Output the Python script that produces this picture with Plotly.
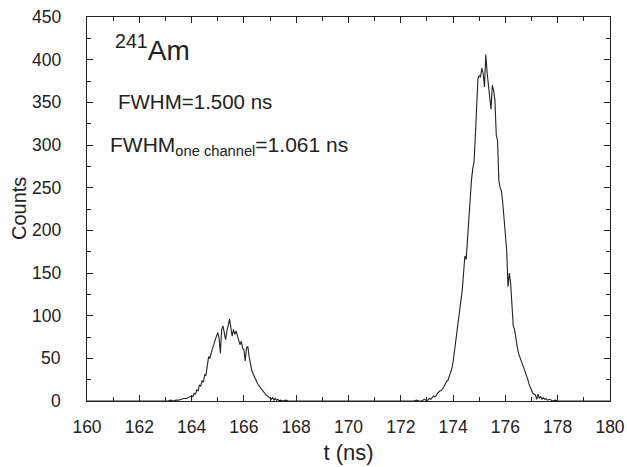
import plotly.graph_objects as go

# Small peak (~165.4 ns)
t_small = [163.0, 163.1, 163.2, 163.3, 163.4, 163.5, 163.6, 163.7, 163.8, 163.9,
           164.0, 164.05, 164.1, 164.15, 164.2, 164.25, 164.3, 164.35, 164.4, 164.45,
           164.5, 164.55, 164.6, 164.65, 164.7, 164.75, 164.8, 164.85, 164.9, 164.95,
           165.0, 165.05, 165.1, 165.15, 165.2, 165.25, 165.3, 165.35, 165.4, 165.45,
           165.5, 165.55, 165.6, 165.65, 165.7, 165.75, 165.8, 165.85, 165.9, 165.95,
           166.0, 166.05, 166.1, 166.15, 166.2, 166.25, 166.3, 166.35, 166.4, 166.45,
           166.5, 166.55, 166.6, 166.65, 166.7, 166.75, 166.8, 166.85, 166.9, 166.95,
           167.0, 167.05, 167.1, 167.15, 167.2, 167.25, 167.3, 167.35, 167.4, 167.5,
           167.6, 167.7, 167.8]
c_small = [0, 0, 1, 0, 1, 1, 2, 3, 3, 5,
           6, 5, 9, 8, 13, 12, 19, 17, 24, 22,
           31, 30, 40, 52, 50, 58, 62, 66, 72, 76,
           80, 74, 56, 84, 88, 80, 72, 82, 90, 96,
           86, 76, 84, 78, 82, 76, 72, 66, 70, 62,
           60, 47, 62, 64, 52, 42, 36, 32, 28, 25,
           22, 19, 17, 15, 12, 11, 9, 7, 6, 5,
           3, 2, 4, 1, 3, 1, 2, 0, 1, 0,
           1, 0, 0]

# Large peak (~175.2 ns)
t_large = [172.5, 172.6, 172.7, 172.8, 172.9, 173.0, 173.05, 173.1, 173.15, 173.2,
           173.25, 173.3, 173.35, 173.4, 173.45, 173.5, 173.55, 173.6, 173.65, 173.7,
           173.75, 173.8, 173.85, 173.9, 173.95, 174.0, 174.05, 174.1, 174.15, 174.2,
           174.25, 174.3, 174.35, 174.4, 174.45, 174.5, 174.55, 174.6, 174.65, 174.7,
           174.75, 174.8, 174.85, 174.9, 174.95, 175.0, 175.05, 175.1, 175.15, 175.2,
           175.25, 175.3, 175.35, 175.4, 175.45, 175.5, 175.55, 175.6, 175.65, 175.7,
           175.75, 175.8, 175.85, 175.9, 175.95, 176.0, 176.05, 176.1, 176.15, 176.2,
           176.25, 176.3, 176.35, 176.4, 176.45, 176.5, 176.55, 176.6, 176.65, 176.7,
           176.75, 176.8, 176.85, 176.9, 176.95, 177.0, 177.05, 177.1, 177.15, 177.2,
           177.25, 177.3, 177.35, 177.4, 177.45, 177.5, 177.55, 177.6, 177.7, 177.8,
           177.9, 178.0, 178.2, 178.5]
c_large = [0, 1, 0, 0, 2, 0, 1, 3, 2, 4,
           6, 5, 6, 9, 11, 12, 12, 14, 17, 20,
           23, 24, 28, 33, 38, 46, 58, 68, 80, 92,
           104, 112, 130, 150, 170, 166, 190, 215, 240, 258,
           272, 280, 310, 340, 378, 381, 380, 390, 384, 368,
           406, 385, 372, 360, 342, 370, 364, 352, 312, 305,
           258, 250, 246, 232, 215, 198, 176, 134, 150, 138,
           104, 88, 84, 72, 64, 56, 52, 46, 42, 38,
           35, 30, 26, 20, 16, 12, 9, 8, 7, 2,
           8, 3, 5, 2, 4, 2, 3, 1, 2, 0,
           1, 0, 0, 0]

t_all = [160.0] + t_small + t_large + [180.0]
c_all = [0] + c_small + c_large + [0]

x_ticks = [160, 162, 164, 166, 168, 170, 172, 174, 176, 178, 180]
y_ticks = [0, 50, 100, 150, 200, 250, 300, 350, 400, 450]

font_family = "Liberation Sans, Arial, sans-serif"
ink = "#222222"

fig = go.Figure()
fig.add_trace(go.Scatter(x=t_all, y=c_all, mode="lines",
                         line=dict(color=ink, width=1.1),
                         showlegend=False, hoverinfo="skip"))

axis_common = dict(showline=True, linecolor=ink, linewidth=1.3, mirror="ticks",
                   ticks="inside", ticklen=6, tickwidth=1.2, tickcolor=ink,
                   showgrid=False, zeroline=False, automargin=False,
                   tickfont=dict(family=font_family, size=17.5, color=ink))

fig.update_xaxes(range=[160, 180], tickvals=x_ticks, ticklabelstandoff=10,
                 title=dict(text="t (ns)", font=dict(family=font_family, size=22, color=ink),
                            standoff=8),
                 minor=dict(ticks="inside", dtick=1, ticklen=4, tickwidth=1, tickcolor=ink),
                 **axis_common)
fig.update_yaxes(range=[0, 450], tickvals=y_ticks, showticklabels=False,
                 minor=dict(ticks="inside", dtick=25, ticklen=4, tickwidth=1, tickcolor=ink),
                 **axis_common)

# y tick labels placed with a wider gap from the axis (as in the reference)
for v in y_ticks:
    fig.add_annotation(x=-0.046, y=v, xref="paper", yref="y", xanchor="right", yanchor="middle",
                       text=str(v), showarrow=False,
                       font=dict(family=font_family, size=17.5, color=ink))

fig.add_annotation(x=-0.13, y=0.5, xref="paper", yref="paper", xanchor="center", yanchor="middle",
                   text="Counts", textangle=-90, showarrow=False,
                   font=dict(family=font_family, size=20, color=ink))
fig.add_annotation(x=0.05, y=0.918, xref="paper", yref="paper", xanchor="left", yanchor="middle",
                   text="<sup>241</sup>Am", showarrow=False,
                   font=dict(family=font_family, size=28, color=ink))
fig.add_annotation(x=0.055, y=0.78, xref="paper", yref="paper", xanchor="left", yanchor="middle",
                   text="FWHM=1.500 ns", showarrow=False,
                   font=dict(family=font_family, size=20.5, color=ink))
fig.add_annotation(x=0.04, y=0.665, xref="paper", yref="paper", xanchor="left", yanchor="middle",
                   text="FWHM<sub>one channel</sub>=1.061 ns", showarrow=False,
                   font=dict(family=font_family, size=21, color=ink))

fig.update_layout(width=627, height=467, margin=dict(l=87, r=17, t=17, b=66),
                  plot_bgcolor="white", paper_bgcolor="white",
                  font=dict(family=font_family, color=ink))

fig.write_html("out.html")
